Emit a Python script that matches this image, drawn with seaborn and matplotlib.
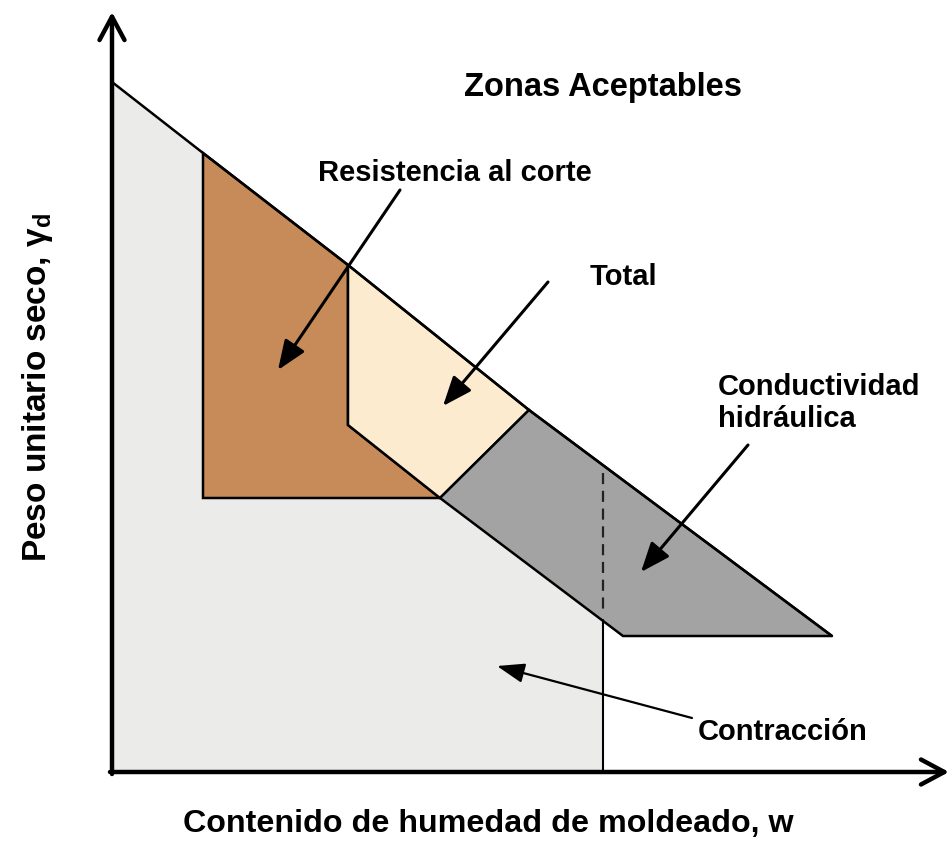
import matplotlib
matplotlib.use("Agg")
import matplotlib.pyplot as plt
import seaborn as sns
import pandas as pd

sns.set_theme(style="white")
plt.rcParams['font.family'] = ['Liberation Sans', 'DejaVu Sans']
plt.rcParams['text.color'] = 'black'

# Schematic coordinates (x: moisture content, y: dry unit weight; picture units, y grows downward)
contraccion_x = [112, 440, 440, 603, 603, 112]
contraccion_y = [82, 336, 498, 620, 772, 772]

resistencia_x = [203, 348, 348, 440, 203]
resistencia_y = [153, 265, 425, 498, 498]

total_x = [348, 529, 440, 348]
total_y = [265, 410, 498, 425]

conductividad_x = [529, 832, 623, 440]
conductividad_y = [410, 636, 636, 498]

frontera_x = [112, 203, 348, 529, 832]
frontera_y = [82, 153, 265, 410, 636]

limite_x = [603, 603]
limite_y = [473, 610]

colores = {
    "Contracción": "#ebebea",
    "Resistencia al corte": "#c68b58",
    "Total": "#fcebcf",
    "Conductividad hidráulica": "#a3a3a3",
}

fig = plt.figure(figsize=(9.53, 8.41), dpi=100)
ax = fig.add_axes([0, 0, 1, 1])

ax.fill(contraccion_x, contraccion_y, facecolor=colores["Contracción"], edgecolor="none", zorder=1)
ax.plot([603, 603], [620, 772], color="black", lw=1.5, zorder=3)
ax.fill(resistencia_x, resistencia_y, facecolor=colores["Resistencia al corte"], edgecolor="black", lw=1.8, zorder=2)
ax.fill(total_x, total_y, facecolor=colores["Total"], edgecolor="black", lw=1.8, zorder=2)
ax.fill(conductividad_x, conductividad_y, facecolor=colores["Conductividad hidráulica"], edgecolor="black", lw=1.8, zorder=2)

df_f = pd.DataFrame({"x": frontera_x, "y": frontera_y})
sns.lineplot(data=df_f, x="x", y="y", ax=ax, color="black", lw=1.8, zorder=4, sort=False,
             estimator=None)
ax.plot(limite_x, limite_y, color="#222222", lw=1.6, zorder=4, linestyle=(0, (5, 3)))

ax.set_xlim(0, 953)
ax.set_ylim(841, 0)
ax.axis("off")

# axes with open arrowheads
ax.annotate("", xy=(112, 12), xytext=(112, 774),
            arrowprops=dict(arrowstyle="->,head_length=1.4,head_width=0.75", lw=3.2, color="black",
                            shrinkA=0, shrinkB=0), zorder=5)
ax.annotate("", xy=(949, 772), xytext=(110, 772),
            arrowprops=dict(arrowstyle="->,head_length=1.4,head_width=0.75", lw=3.2, color="black",
                            shrinkA=0, shrinkB=0), zorder=5)

fs = 21
ax.text(603, 87, "Zonas Aceptables", ha="center", va="center", fontsize=23.5, fontweight="bold")
ax.text(455, 173, "Resistencia al corte", ha="center", va="center", fontsize=fs, fontweight="bold")
ax.text(623, 277, "Total", ha="center", va="center", fontsize=fs, fontweight="bold")
ax.text(718, 403, "Conductividad\nhidráulica", ha="left", va="center", fontsize=fs,
        fontweight="bold", linespacing=1.2)
ax.text(783, 732, "Contracción", ha="center", va="center", fontsize=fs, fontweight="bold")
ax.text(488, 824, "Contenido de humedad de moldeado, w", ha="center", va="center",
        fontsize=23.2, fontweight="bold")
ax.text(38, 388, r"Peso unitario seco, γ$_\mathregular{d}$", ha="center", va="center",
        fontsize=24, fontweight="bold", rotation=90)

arrow_kw = dict(arrowstyle="-|>,head_length=1.5,head_width=0.6", lw=2.2, color="black",
                shrinkA=0, shrinkB=0)
ax.annotate("", xy=(278, 370), xytext=(400, 190), arrowprops=arrow_kw, zorder=6)
ax.annotate("", xy=(443, 406), xytext=(548, 282), arrowprops=arrow_kw, zorder=6)
ax.annotate("", xy=(641, 572), xytext=(748, 445), arrowprops=arrow_kw, zorder=6)
ax.annotate("", xy=(497, 666), xytext=(692, 718),
            arrowprops=dict(arrowstyle="-|>,head_length=1.4,head_width=0.5", lw=1.6, color="black",
                            shrinkA=0, shrinkB=0), zorder=6)

fig.savefig("out.png", dpi=100, facecolor="white")
